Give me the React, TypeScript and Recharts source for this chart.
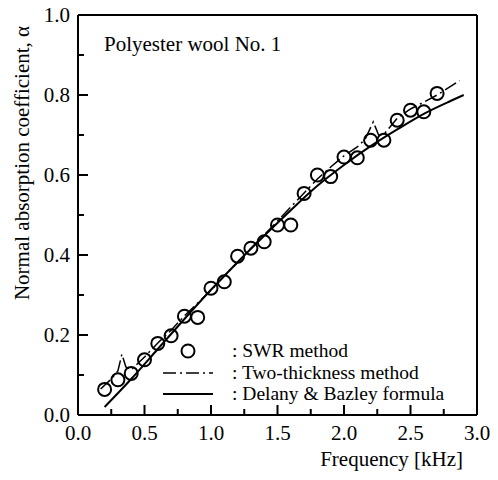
import React from "react"
import {
  ComposedChart,
  Line,
  Scatter,
  XAxis,
  YAxis,
  Legend,
} from "recharts"

// SWR method, measured points (frequency kHz, absorption coefficient)
const swrFreq = [0.2, 0.3, 0.4, 0.5, 0.6, 0.7, 0.8, 0.9, 1.0, 1.1, 1.2, 1.3, 1.4, 1.5, 1.6, 1.7, 1.8, 1.9, 2.0, 2.1, 2.2, 2.3, 2.4, 2.5, 2.6, 2.7]
const swrAlpha = [0.064, 0.088, 0.104, 0.138, 0.179, 0.198, 0.247, 0.244, 0.317, 0.333, 0.397, 0.417, 0.433, 0.475, 0.475, 0.554, 0.6, 0.596, 0.645, 0.643, 0.687, 0.687, 0.737, 0.762, 0.758, 0.804]

// Two-thickness method curve
const twoFreq = [0.17, 0.25, 0.3, 0.33, 0.36, 0.4, 0.5, 0.6, 0.7, 0.8, 0.9, 1.0, 1.1, 1.2, 1.3, 1.4, 1.5, 1.6, 1.7, 1.8, 1.9, 2.0, 2.1, 2.16, 2.22, 2.26, 2.3, 2.4, 2.5, 2.6, 2.7, 2.87]
const twoAlpha = [0.065, 0.09, 0.11, 0.152, 0.12, 0.113, 0.145, 0.18, 0.212, 0.248, 0.28, 0.312, 0.347, 0.382, 0.417, 0.45, 0.485, 0.52, 0.555, 0.59, 0.62, 0.648, 0.67, 0.69, 0.733, 0.7, 0.702, 0.742, 0.765, 0.782, 0.8, 0.836]

// Delany & Bazley formula curve
const dbFreq = [0.2, 0.4, 0.6, 0.8, 1.0, 1.2, 1.4, 1.6, 1.8, 2.0, 2.2, 2.4, 2.6, 2.8, 2.9]
const dbAlpha = [0.02, 0.09, 0.165, 0.24, 0.313, 0.382, 0.448, 0.512, 0.573, 0.625, 0.672, 0.714, 0.753, 0.785, 0.8]

const xTicks = [0, 0.25, 0.5, 0.75, 1, 1.25, 1.5, 1.75, 2, 2.25, 2.5, 2.75, 3]
const yTicks = [0, 0.1, 0.2, 0.3, 0.4, 0.5, 0.6, 0.7, 0.8, 0.9, 1.0]

const legendRows = [
  { key: "swr", label: ": SWR method" },
  { key: "two", label: ": Two-thickness method" },
  { key: "db", label: ": Delany & Bazley formula" },
]

const swrData = swrFreq.map((x, i) => ({ x, y: swrAlpha[i] }))
const twoData = twoFreq.map((x, i) => ({ x, y: twoAlpha[i] }))
const dbData = dbFreq.map((x, i) => ({ x, y: dbAlpha[i] }))

const FONT = "'Liberation Serif', 'Times New Roman', serif"
const FS = 21
const DASH = "13 4 2 4"

const isMajorX = (v: number) => Math.abs(v * 2 - Math.round(v * 2)) < 1e-6
const isMajorY = (v: number) => Math.round(v * 10) % 2 === 0

const BottomTick = ({ x, y, payload }: any) => {
  const major = isMajorX(payload.value)
  return (
    <g>
      <line x1={x} y1={y} x2={x} y2={y - (major ? 10 : 6)} stroke="#000" strokeWidth={2} />
      {major && (
        <text x={x} y={y + 25} textAnchor="middle" fontSize={FS} fontFamily={FONT} fill="#000">
          {payload.value.toFixed(1)}
        </text>
      )}
    </g>
  )
}

const TopTick = ({ x, y, payload }: any) => {
  const major = isMajorX(payload.value)
  return <line x1={x} y1={y} x2={x} y2={y + (major ? 10 : 6)} stroke="#000" strokeWidth={2} />
}

const LeftTick = ({ x, y, payload }: any) => {
  const major = isMajorY(payload.value)
  return (
    <g>
      <line x1={x} y1={y} x2={x + (major ? 10 : 6)} y2={y} stroke="#000" strokeWidth={2} />
      {major && (
        <text x={x - 8} y={y + 7} textAnchor="end" fontSize={FS} fontFamily={FONT} fill="#000">
          {payload.value.toFixed(1)}
        </text>
      )}
    </g>
  )
}

const RightTick = ({ x, y, payload }: any) => {
  const major = isMajorY(payload.value)
  return <line x1={x} y1={y} x2={x - (major ? 10 : 6)} y2={y} stroke="#000" strokeWidth={2} />
}

const Ring = ({ cx, cy }: any) => (
  <circle cx={cx} cy={cy} r={6.5} fill="none" stroke="#000" strokeWidth={2} />
)

const YLabel = () => {
  const cx = 22
  const cy = 163
  return (
    <text
      x={cx}
      y={cy}
      transform={`rotate(-90 ${cx} ${cy})`}
      textAnchor="middle"
      dominantBaseline="central"
      fontSize={FS}
      fontFamily={FONT}
      fill="#000"
    >
      Normal absorption coefficient, α
    </text>
  )
}

const renderLegend = () => (
  <svg width={340} height={74} style={{ display: "block" }}>
    {legendRows.map((row, i) => {
      const cy = [13, 35, 56][i]
      return (
        <g key={row.key}>
          {row.key === "swr" && <circle cx={38} cy={cy} r={6.5} fill="none" stroke="#000" strokeWidth={2} />}
          {row.key === "two" && <line x1={13} x2={63} y1={cy} y2={cy} stroke="#000" strokeWidth={1.6} strokeDasharray={DASH} />}
          {row.key === "db" && <line x1={13} x2={63} y1={cy} y2={cy} stroke="#000" strokeWidth={2} />}
          <text x={82} y={cy + 6} fontSize={19.5} fontFamily={FONT} fill="#000">
            {row.label}
          </text>
        </g>
      )
    })}
  </svg>
)

export default function App() {
  const axisLine = { stroke: "#000", strokeWidth: 2 }
  return (
    <div style={{ position: "absolute", left: 0, top: 0, width: 498, height: 480, background: "#fff" }}>
      <ComposedChart width={498} height={480} margin={{ top: 14, right: 20, bottom: 0, left: 0 }}>
        <XAxis
          xAxisId="main"
          dataKey="x"
          type="number"
          domain={[0, 3]}
          ticks={xTicks}
          interval={0}
          height={65}
          tickSize={0}
          tickMargin={0}
          tickLine={false}
          axisLine={axisLine}
          tick={<BottomTick />}
          label={{
            value: "Frequency [kHz]",
            position: "insideBottomRight",
            offset: 14,
            fontSize: FS,
            fontFamily: FONT,
            fill: "#000",
          }}
        />
        <XAxis
          xAxisId="top"
          orientation="top"
          dataKey="x"
          type="number"
          domain={[0, 3]}
          ticks={xTicks}
          interval={0}
          height={1}
          tickSize={0}
          tickMargin={0}
          tickLine={false}
          axisLine={axisLine}
          tick={<TopTick />}
        />
        <YAxis
          yAxisId="main"
          dataKey="y"
          type="number"
          domain={[0, 1]}
          ticks={yTicks}
          interval={0}
          width={78}
          tickSize={0}
          tickMargin={0}
          tickLine={false}
          axisLine={axisLine}
          tick={<LeftTick />}
          label={{ content: <YLabel /> }}
        />
        <YAxis
          yAxisId="right"
          orientation="right"
          dataKey="y"
          type="number"
          domain={[0, 1]}
          ticks={yTicks}
          interval={0}
          width={1}
          tickSize={0}
          tickMargin={0}
          tickLine={false}
          axisLine={axisLine}
          tick={<RightTick />}
        />
        <Line
          xAxisId="main"
          yAxisId="main"
          data={dbData}
          dataKey="y"
          name="Delany & Bazley formula"
          type="monotone"
          stroke="#000"
          strokeWidth={2}
          dot={false}
          activeDot={false}
          isAnimationActive={false}
        />
        <Line
          xAxisId="main"
          yAxisId="main"
          data={twoData}
          dataKey="y"
          name="Two-thickness method"
          type="linear"
          stroke="#000"
          strokeWidth={1.5}
          strokeDasharray={DASH}
          dot={false}
          activeDot={false}
          isAnimationActive={false}
        />
        <Scatter
          xAxisId="main"
          yAxisId="main"
          data={swrData}
          dataKey="y"
          name="SWR method"
          shape={<Ring />}
          isAnimationActive={false}
        />
        <Legend
          layout="horizontal"
          align="center"
          verticalAlign="middle"
          content={renderLegend}
          wrapperStyle={{ position: "absolute", left: 150, top: 338, width: 340, height: 74 }}
        />
      </ComposedChart>
      <div
        style={{
          position: "absolute",
          left: 104,
          top: 31,
          fontFamily: FONT,
          fontSize: FS,
          lineHeight: "26px",
          color: "#000",
          whiteSpace: "nowrap",
        }}
      >
        Polyester wool No. 1
      </div>
    </div>
  )
}
